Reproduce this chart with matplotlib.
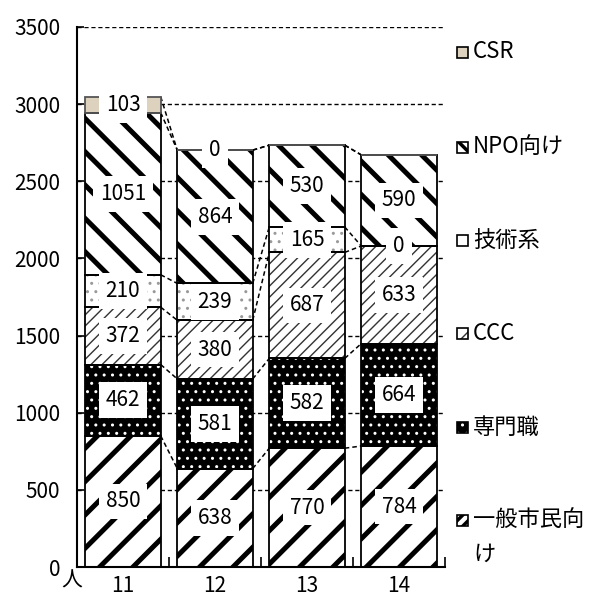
import numpy as np
import matplotlib
matplotlib.use("Agg")
import matplotlib.pyplot as plt
from matplotlib.patches import Rectangle

plt.rcParams['font.family'] = ['Noto Sans CJK JP', 'DejaVu Sans']

# data (persons per year)
years = ['11', '12', '13', '14']
ippan = [850, 638, 770, 784]      # 一般市民向け
senmon = [462, 581, 582, 664]     # 専門職
ccc = [372, 380, 687, 633]        # CCC
gijutsu = [210, 239, 165, 0]      # 技術系
npo = [1051, 864, 530, 590]       # NPO向け
csr = [103, 0, np.nan, np.nan]    # CSR (blank for 13, 14)
names = ['一般市民向け', '専門職', 'CCC', '技術系', 'NPO向け', 'CSR']
yticks = [0, 500, 1000, 1500, 2000, 2500, 3000, 3500]

series = [ippan, senmon, ccc, gijutsu, npo, csr]

# (facecolor, hatch, hatch colour, hatch linewidth, legend swatch hatch)
styles = [
    ('white', '/', 'black', 3.6, '///'),
    ('black', '..', 'white', 1.0, '..'),
    ('white', '///', '#333333', 1.0, '//'),
    ('white', '..', '#999999', 1.0, '.'),
    ('white', '\\', 'black', 3.6, '\\\\'),
    ('#ddd2bd', '', '#555555', 1.0, ''),
]

fs = 15

fig = plt.figure(figsize=(5.94, 5.92), dpi=100)
ax = fig.add_axes([77 / 594, 1 - 567 / 592, 368 / 594, 540 / 592])

x = np.arange(len(years))
width = 0.82
bottom = np.zeros(len(years))
tops = []

for vals, (fc, hatch, hc, hlw, _) in zip(series, styles):
    v = np.nan_to_num(np.array(vals, dtype=float))
    fill = ax.bar(x, v, width, bottom=bottom, color=fc, edgecolor=hc,
                  hatch=hatch, linewidth=0, zorder=2)
    for p in fill:
        if hasattr(p, 'set_hatch_linewidth'):
            p.set_hatch_linewidth(hlw)
    edge = 'black' if fc != '#ddd2bd' else '#555555'
    ax.bar(x, v, width, bottom=bottom, facecolor='none', edgecolor=edge,
           linewidth=1.3, zorder=3)
    for i, val in enumerate(vals):
        if np.isnan(val):
            continue
        ax.text(x[i], bottom[i] + v[i] / 2, f'{int(val)}', ha='center',
                va='center', fontsize=fs, zorder=5,
                bbox=dict(boxstyle='square,pad=0.33', fc='white', ec='none'))
    bottom = bottom + v
    tops.append(bottom.copy())

# series lines between bars
for t in tops:
    for i in range(len(years) - 1):
        ax.plot([x[i] + width / 2, x[i + 1] - width / 2], [t[i], t[i + 1]],
                color='black', linestyle=(0, (3, 2)), linewidth=1.1, zorder=1)

ax.set_xlim(-0.5, 3.5)
ax.set_ylim(0, 3500)
ax.set_yticks(yticks)
ax.set_yticklabels([str(v) for v in yticks], fontsize=fs)
ax.tick_params(axis='y', direction='in', length=5, width=1.2, pad=12)
ax.set_xticks(x)
ax.set_xticklabels(years, fontsize=fs)
ax.tick_params(axis='x', which='major', length=0, pad=6)
ax.set_xticks([0.5, 1.5, 2.5, 3.5], minor=True)
ax.tick_params(axis='x', which='minor', direction='in', length=7, width=1.2)

ax.yaxis.grid(True, color='black', linestyle=(0, (3, 2)), linewidth=1.0)
ax.set_axisbelow(True)
for s in ['top', 'right']:
    ax.spines[s].set_visible(False)
ax.spines['left'].set_linewidth(1.5)
ax.spines['bottom'].set_linewidth(1.5)

fig.text(72 / 594, 1 - 581 / 592, '人', ha='center', va='center', fontsize=fs)

# legend drawn at the right, top to bottom CSR ... 一般市民向け
leg_y = [520, 427, 333, 240, 147, 52]
labels = ['一般市民向\nけ', '専門職', 'CCC', '技術系', 'NPO向け', 'CSR']
for ly, lab, (fc, hatch, hc, hlw, sw) in zip(leg_y, labels, styles):
    r = Rectangle((457 / 594, 1 - (ly + 5.5) / 592), 11 / 594, 11 / 592,
                  transform=fig.transFigure, facecolor=fc, edgecolor=hc,
                  hatch=sw, linewidth=0)
    if hasattr(r, 'set_hatch_linewidth'):
        r.set_hatch_linewidth(min(hlw, 2.5))
    fig.add_artist(r)
    fig.add_artist(Rectangle((457 / 594, 1 - (ly + 5.5) / 592), 11 / 594,
                             11 / 592, transform=fig.transFigure,
                             facecolor='none', edgecolor='black', linewidth=1.2))
    if '\n' in lab:
        fig.text(473 / 594, 1 - (ly - 12) / 592, lab, ha='left', va='top',
                 fontsize=16, linespacing=1.65)
    else:
        fig.text(473 / 594, 1 - ly / 592, lab, ha='left', va='center',
                 fontsize=16)

fig.savefig('out.png', dpi=100)
